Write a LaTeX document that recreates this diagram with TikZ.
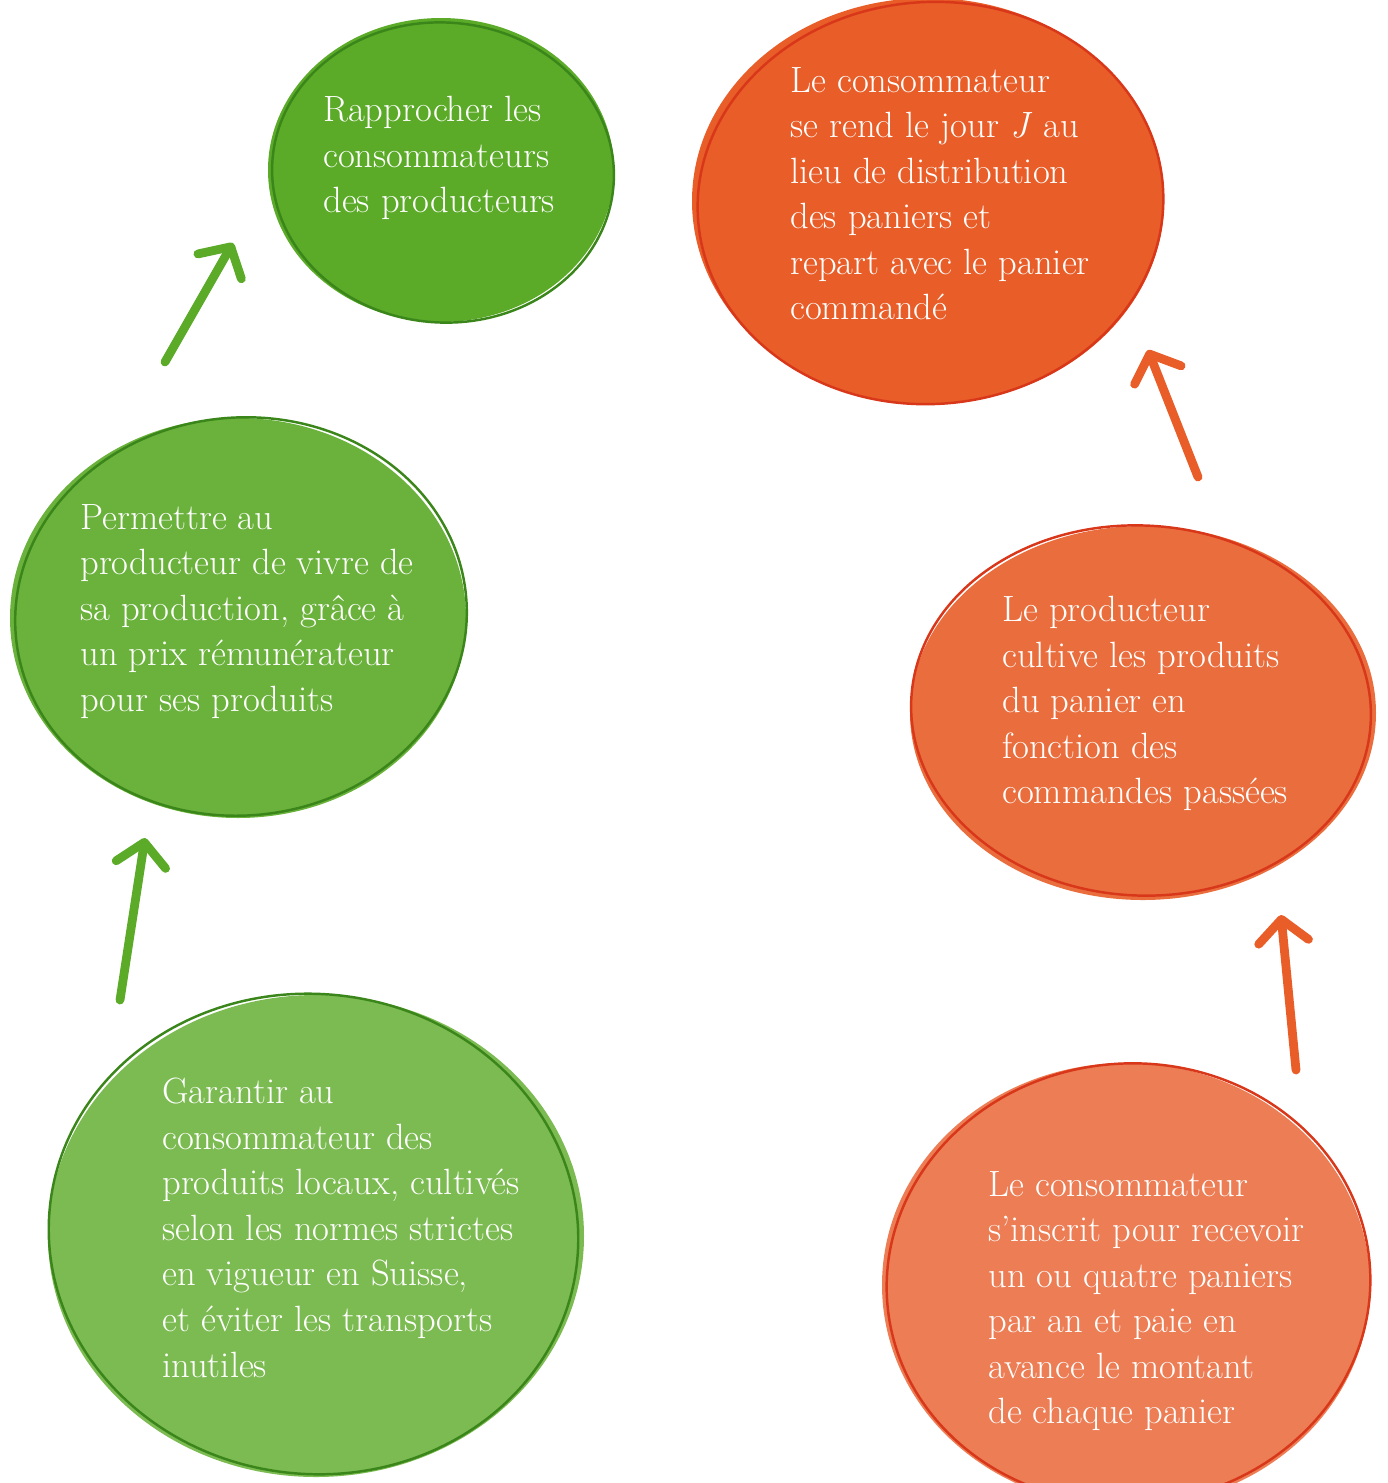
\documentclass[tikz,border=0pt]{standalone}
\usepackage{tikz}
\usetikzlibrary{shapes.geometric, arrows.meta}

\definecolor{greenA}{HTML}{5BAB28}
\definecolor{greenB}{HTML}{6AB23B}
\definecolor{greenC}{HTML}{7CBB52}
\definecolor{greenLine}{HTML}{3B861A}
\definecolor{orangeA}{HTML}{E85D28}
\definecolor{orangeB}{HTML}{EA6E3D}
\definecolor{orangeC}{HTML}{EC7D54}
\definecolor{orangeLine}{HTML}{D8371A}

\begin{document}
\begin{tikzpicture}[
    blob/.style={ellipse, draw=none, inner sep=0pt},
    gline/.style={draw=greenLine, line width=1.4pt},
    oline/.style={draw=orangeLine, line width=1.4pt},
    label/.style={anchor=north west, inner sep=0pt, align=left, text=white,
        font=\fontsize{20.8}{25.9}\selectfont},
    garrow/.style={greenA, line width=5pt, line cap=round,
        -{Straight Barb[length=4.5mm, width=10mm, round]}},
    oarrow/.style={orangeA, line width=5pt, line cap=round,
        -{Straight Barb[length=4.5mm, width=10mm, round]}}
  ]
            \useasboundingbox (0, 0) rectangle (27.76, -29.66);

            % green side
            \node[blob, fill=greenA, minimum width=6.92cm, minimum height=6.08cm] (gtop) at (8.82, -3.40) {};
            \draw[gline] (gtop.center) ++(0.04, -0.05) ellipse [x radius=3.42, y radius=3.0, rotate=-4];
            \node[blob, fill=greenB, minimum width=9.12cm, minimum height=8.0cm] (gmid) at (4.76, -12.36) {};
            \draw[gline] (gmid.center) ++(0.06, 0.03) ellipse [x radius=4.52, y radius=3.98, rotate=5];
            \node[blob, fill=greenC, minimum width=10.72cm, minimum height=9.64cm] (gbot) at (6.32, -24.72) {};
            \draw[gline] (gbot.center) ++(-0.05, 0.04) ellipse [x radius=5.3, y radius=4.8, rotate=-6];

            % orange side
            \node[blob, fill=orangeA, minimum width=9.44cm, minimum height=8.12cm] (otop) at (18.56, -4.02) {};
            \draw[oline] (otop.center) ++(0.05, -0.04) ellipse [x radius=4.66, y radius=4.02, rotate=4];
            \node[blob, fill=orangeB, minimum width=9.32cm, minimum height=7.48cm] (omid) at (22.86, -14.26) {};
            \draw[oline] (omid.center) ++(-0.04, 0.05) ellipse [x radius=4.6, y radius=3.7, rotate=-3];
            \node[blob, fill=orangeC, minimum width=9.76cm, minimum height=8.88cm] (obot) at (22.52, -25.70) {};
            \draw[oline] (obot.center) ++(0.05, 0.03) ellipse [x radius=4.84, y radius=4.4, rotate=5];

            % texts
            \node[label] (tgtop) at (6.46, -1.92) {Rapprocher les\\consommateurs\\des producteurs};
            \node[label] (tgmid) at (1.60, -10.08) {Permettre au\\producteur de vivre de\\sa production, grâce à\\un prix rémunérateur\\pour ses produits};
            \node[label] (tgbot) at (3.24, -21.56) {Garantir au\\consommateur des\\produits locaux, cultivés\\selon les normes strictes\\en vigueur en Suisse,\\et éviter les transports\\inutiles};
            \node[label] (totop) at (15.80, -1.34) {Le consommateur\\se rend le jour \textit{J} au\\lieu de distribution\\des paniers et\\repart avec le panier\\commandé};
            \node[label] (tomid) at (20.04, -11.92) {Le producteur\\cultive les produits\\du panier en\\fonction des\\commandes passées};
            \node[label] (tobot) at (19.76, -23.42) {Le consommateur\\s’inscrit pour recevoir\\un ou quatre paniers\\par an et paie en\\avance le montant\\de chaque panier};

            % arrows
            \coordinate (ga1) at (3.30, -7.24);
            \coordinate (gb1) at (4.66, -4.86);
            \coordinate (ga2) at (2.40, -20.00);
            \coordinate (gb2) at (2.90, -16.76);
            \coordinate (oa1) at (23.96, -9.54);
            \coordinate (ob1) at (22.96, -7.00);
            \coordinate (oa2) at (25.92, -21.40);
            \coordinate (ob2) at (25.62, -18.30);
            \draw[garrow] (ga1) -- (gb1);
            \draw[garrow] (ga2) -- (gb2);
            \draw[oarrow] (oa1) -- (ob1);
            \draw[oarrow] (oa2) -- (ob2);
        \end{tikzpicture}
\end{document}
